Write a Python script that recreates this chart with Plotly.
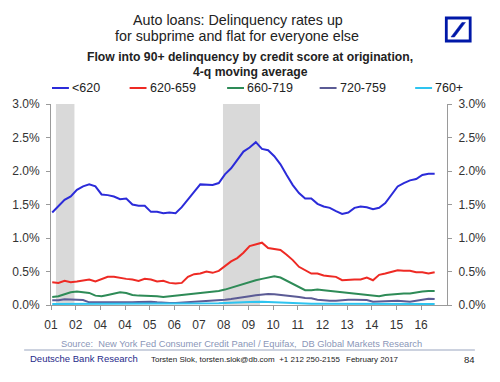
import plotly.graph_objects as go

# ---------------- data (quarterly, 2001Q1 .. 2016Q3) ----------------
start_year = 2001.05
n_q = 63
quarters = [start_year + 0.25 * i for i in range(n_q)]

lt620 = [1.38, 1.48, 1.57, 1.62, 1.72, 1.77, 1.80, 1.77, 1.65, 1.64,
         1.62, 1.58, 1.59, 1.50, 1.48, 1.48, 1.39, 1.39, 1.37, 1.38,
         1.37, 1.46, 1.58, 1.69, 1.80, 1.80, 1.79, 1.82, 1.95, 2.04,
         2.16, 2.29, 2.35, 2.43, 2.33, 2.31, 2.22, 2.10, 1.94, 1.79,
         1.67, 1.59, 1.59, 1.51, 1.47, 1.45, 1.40, 1.36, 1.38, 1.45,
         1.47, 1.46, 1.43, 1.45, 1.52, 1.65, 1.77, 1.82, 1.86, 1.88,
         1.94, 1.96, 1.96]
s620_659 = [0.34, 0.33, 0.36, 0.34, 0.35, 0.37, 0.38, 0.35, 0.38, 0.42,
            0.42, 0.40, 0.39, 0.38, 0.36, 0.39, 0.38, 0.35, 0.36, 0.33,
            0.32, 0.33, 0.42, 0.46, 0.47, 0.50, 0.48, 0.51, 0.58, 0.65,
            0.70, 0.78, 0.88, 0.90, 0.93, 0.85, 0.83, 0.82, 0.75, 0.67,
            0.57, 0.52, 0.47, 0.47, 0.44, 0.43, 0.42, 0.37, 0.38, 0.38,
            0.38, 0.41, 0.37, 0.45, 0.47, 0.49, 0.52, 0.51, 0.51, 0.49,
            0.49, 0.47, 0.49]
s660_719 = [0.12, 0.13, 0.16, 0.19, 0.20, 0.19, 0.18, 0.14, 0.13, 0.15,
            0.17, 0.19, 0.18, 0.15, 0.14, 0.14, 0.14, 0.13, 0.12, 0.13,
            0.13, 0.14, 0.16, 0.17, 0.18, 0.19, 0.19, 0.21, 0.23, 0.26,
            0.29, 0.32, 0.35, 0.37, 0.39, 0.41, 0.43, 0.41, 0.36, 0.31,
            0.26, 0.22, 0.22, 0.23, 0.22, 0.21, 0.20, 0.19, 0.18, 0.18,
            0.17, 0.16, 0.14, 0.13, 0.15, 0.16, 0.17, 0.17, 0.17, 0.19,
            0.20, 0.21, 0.21]
s720_759 = [0.07, 0.07, 0.085, 0.08, 0.08, 0.075, 0.04, 0.04, 0.04, 0.04,
            0.035, 0.03, 0.035, 0.04, 0.045, 0.05, 0.05, 0.04, 0.03, 0.03,
            0.03, 0.035, 0.04, 0.05, 0.06, 0.065, 0.065, 0.07, 0.08, 0.09,
            0.10, 0.115, 0.13, 0.145, 0.155, 0.165, 0.16, 0.15, 0.15, 0.14,
            0.12, 0.105, 0.10, 0.08, 0.07, 0.065, 0.065, 0.075, 0.08, 0.08,
            0.075, 0.075, 0.05, 0.05, 0.05, 0.06, 0.065, 0.06, 0.05, 0.065,
            0.08, 0.095, 0.09]
s760p = [0.015, 0.015, 0.02, 0.02, 0.02, 0.02, 0.015, 0.015, 0.015, 0.015,
         0.015, 0.015, 0.015, 0.015, 0.015, 0.015, 0.015, 0.015, 0.015, 0.015,
         0.015, 0.02, 0.02, 0.02, 0.02, 0.025, 0.025, 0.025, 0.03, 0.03,
         0.035, 0.04, 0.045, 0.05, 0.05, 0.045, 0.04, 0.035, 0.03, 0.025,
         0.025, 0.02, 0.02, 0.02, 0.02, 0.02, 0.02, 0.02, 0.02, 0.02,
         0.02, 0.015, 0.015, 0.015, 0.015, 0.015, 0.015, 0.015, 0.015, 0.015,
         0.015, 0.015, 0.015]

series_names = ["<620", "620-659", "660-719", "720-759", "760+"]
series_values = [lt620, s620_659, s660_719, s720_759, s760p]
series_colors = ["#2b2bd9", "#ee2a24", "#2e8b57", "#5b5b95", "#2ec4f0"]

recessions = [(2001.2, 2001.95), (2007.97, 2009.47)]

tick_years = list(range(2001, 2017))
tick_labels = ["01", "02", "04", "04", "05", "06", "07", "08", "09", "10",
               "11", "12", "13", "14", "15", "16"]
y_ticks = [0.0, 0.5, 1.0, 1.5, 2.0, 2.5, 3.0]
y_tick_labels = ["0.0%", "0.5%", "1.0%", "1.5%", "2.0%", "2.5%", "3.0%"]

# ---------------- figure ----------------
FONT = "Liberation Sans, Arial, sans-serif"
AXIS_COLOR = "#9a9a9a"

fig = go.Figure()
for name, vals, col in zip(series_names, series_values, series_colors):
    fig.add_trace(go.Scatter(x=quarters, y=vals, name=name, mode="lines",
                             line=dict(color=col, width=2)))
# invisible trace on right axis to show mirrored labels
fig.add_trace(go.Scatter(x=quarters, y=lt620, yaxis="y2", showlegend=False,
                         mode="lines", line=dict(width=0), hoverinfo="skip",
                         opacity=0))

for x0, x1 in recessions:
    fig.add_shape(type="rect", xref="x", yref="y", x0=x0, x1=x1, y0=0, y1=3.0,
                  fillcolor="#d9d9d9", line=dict(width=0), layer="below")

axis_common = dict(showgrid=False, zeroline=False, showline=True,
                   linecolor=AXIS_COLOR, linewidth=1, ticks="outside",
                   tickcolor=AXIS_COLOR, ticklen=4,
                   tickfont=dict(family=FONT, size=12, color="#333333"))

fig.update_layout(
    width=500, height=382,
    margin=dict(l=49, r=53, t=104, b=77),
    paper_bgcolor="white", plot_bgcolor="white",
    font=dict(family=FONT, color="#222222"),
    showlegend=False,
    hovermode=False,
    xaxis=dict(range=[2001.0, 2017.05], tickmode="array", tickvals=tick_years,
               ticktext=tick_labels, ticklabelstandoff=5, **axis_common),
    yaxis=dict(range=[0, 3.0], tickmode="array", tickvals=y_ticks,
               ticktext=y_tick_labels, ticklabelstandoff=4, **axis_common),
    yaxis2=dict(range=[0, 3.0], overlaying="y", side="right", tickmode="array",
                tickvals=y_ticks, ticktext=y_tick_labels, ticklabelstandoff=4,
                **axis_common),
)

def px_to_paper(x=None, y=None):
    res = []
    if x is not None:
        res.append((x - 49) / 398.0)
    if y is not None:
        res.append((305 - y) / 201.0)
    return res[0] if len(res) == 1 else tuple(res)

def ann(text, xpx, ypx, size, color="#222222", bold=False, xanchor="center", family=FONT):
    xp, yp = px_to_paper(xpx, ypx)
    fig.add_annotation(text=("<b>%s</b>" % text) if bold else text,
                       xref="paper", yref="paper", x=xp, y=yp,
                       xanchor=xanchor, yanchor="middle", showarrow=False,
                       font=dict(family=family, size=size, color=color))

ann("Auto loans: Delinquency rates up", 237, 20.5, 14.3)
ann("for subprime and flat for everyone else", 236, 36, 14.3)
ann("Flow into 90+ delinquency by credit score at origination,", 249, 57, 12.2, bold=True)
ann("4-q moving average", 249.5, 71.5, 12.2, bold=True)

# legend (line sample + label) placed above the plot
legend_line_x = [50, 128, 226, 319, 415]
legend_y = 88
for name, col, lx in zip(series_names, series_colors, legend_line_x):
    xa = px_to_paper(x=lx)
    xb = px_to_paper(x=lx + 17)
    yl = px_to_paper(y=legend_y)
    fig.add_shape(type="line", xref="paper", yref="paper", x0=xa, x1=xb, y0=yl, y1=yl,
                  line=dict(color=col, width=2))
    ann(name, lx + 18, legend_y, 12.5, xanchor="left")

ann("Source:  New York Fed Consumer Credit Panel / Equifax,  DB Global Markets Research",
    240, 344, 9.3, color="#8a96b8")
ann("Deutsche Bank Research", 26, 358.5, 9.5, color="#1f2a8a", xanchor="left")
ann("Torsten Slok, torsten.slok@db.com  +1 212 250-2155", 147, 359, 8, xanchor="left")
ann("February 2017", 343, 359, 8, xanchor="left")
ann("84", 462, 359, 9.5, xanchor="left")

# footer rule
x0p = px_to_paper(x=22)
x1p = px_to_paper(x=475)
ylp = px_to_paper(y=350)
fig.add_shape(type="line", xref="paper", yref="paper", x0=x0p, x1=x1p, y0=ylp, y1=ylp,
              line=dict(color="#9aa5c0", width=1.2))

# Deutsche Bank logo
lx0, ly0 = px_to_paper(446.3, 41)
lx1, ly1 = px_to_paper(470.3, 18)
fig.add_shape(type="rect", xref="paper", yref="paper", x0=lx0, x1=lx1, y0=ly0, y1=ly1,
              line=dict(color="#0018a8", width=2.8), fillcolor="white")
pts = [px_to_paper(451, 37), px_to_paper(454.5, 37), px_to_paper(465.5, 22.5), px_to_paper(462, 22.5)]
path = "M %f,%f L %f,%f L %f,%f L %f,%f Z" % (pts[0][0], pts[0][1], pts[1][0], pts[1][1],
                                              pts[2][0], pts[2][1], pts[3][0], pts[3][1])
fig.add_shape(type="path", xref="paper", yref="paper", path=path,
              fillcolor="#0018a8", line=dict(color="#0018a8", width=0.5))

# remove default page margin so the figure sits at the window's top-left corner
fig.write_html("out.html",
               config={"displayModeBar": False, "staticPlot": True},
               post_script="document.body.style.margin='0';document.body.style.overflow='hidden';")
